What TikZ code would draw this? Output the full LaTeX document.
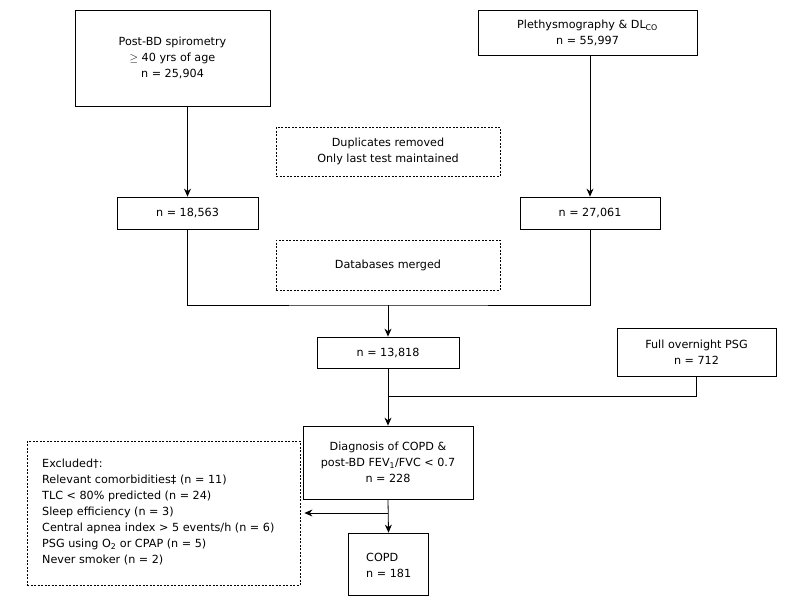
\documentclass[tikz,border=0pt]{standalone}
\usepackage{fontspec}
\setmainfont{DejaVu Sans}
\usetikzlibrary{arrows.meta}
\begin{document}
\begin{tikzpicture}[x=1pt,y=-1pt,
  txt/.style={align=center,font=\fontsize{11.2}{16}\selectfont,inner sep=0pt},
  box/.style={txt,draw,line width=0.8pt},
  dbox/.style={box,dashed,dash pattern=on 2pt off 1.5pt},
  arr/.style={line width=0.8pt,-{Stealth[length=8pt,width=7pt]}},
  ln/.style={line width=0.8pt}]
\useasboundingbox (0,0) rectangle (797,611);
\node[box,minimum width=195,minimum height=96] (a) at (172.5,58) {Post-BD spirometry\\$\geq$ 40 yrs of age\\n = 25,904};
\node[box,minimum width=219,minimum height=45] (b) at (587.5,32.5) {Plethysmography \& DL\textsubscript{CO}\\n = 55,997};
\node[dbox,minimum width=224,minimum height=49] (dup) at (388,151.5) {Duplicates removed\\Only last test maintained};
\node[box,minimum width=141,minimum height=32] (c) at (187.5,213) {n = 18,563};
\node[box,minimum width=140,minimum height=32] (d) at (590,213) {n = 27,061};
\node[dbox,minimum width=224,minimum height=50] (mer) at (388,265) {Databases merged};
\node[box,minimum width=142,minimum height=31] (e) at (388,352.5) {n = 13,818};
\node[box,minimum width=159,minimum height=48] (psg) at (696.5,352) {Full overnight PSG\\n = 712};
\node[box,minimum width=170,minimum height=73] (diag) at (388,462.5) {Diagnosis of COPD \&\\post-BD FEV\textsubscript{1}/FVC {\textless} 0.7\\n = 228};
\node[dbox,minimum width=273,minimum height=144] (exc) at (163.5,513) {};
\node[txt,align=left,anchor=north west] (exct) at (42,459) {Excluded\textdagger:\\Relevant comorbidities\textdaggerdbl\ (n = 11)\\TLC {\textless} 80\% predicted (n = 24)\\Sleep efficiency (n = 3)\\Central apnea index {\textgreater} 5 events/h (n = 6)\\PSG using O\textsubscript{2} or CPAP (n = 5)\\Never smoker (n = 2)};
\node[box,minimum width=80,minimum height=62] (copd) at (388.5,564) {};
\node[txt,align=left,anchor=north west] (copdt) at (366,553) {COPD\\n = 181};
\coordinate (j1) at (388,305);
\coordinate (j2) at (388,396);
\coordinate (j3) at (388,513);
\draw[arr] (a.south -| c) -- (c.north);
\draw[arr] (b.south -| d) -- (d.north);
\draw[ln] (c.south) |- (j1) -| (d.south);
\draw[arr] (j1) -- (e.north);
\draw[arr] (e.south) -- (diag.north);
\draw[ln] (psg.south) |- (j2);
\draw[arr] (diag.south) -- (copd.north);
\draw[arr] (j3) -- ([xshift=4pt]exc.east);
\end{tikzpicture}
\end{document}
